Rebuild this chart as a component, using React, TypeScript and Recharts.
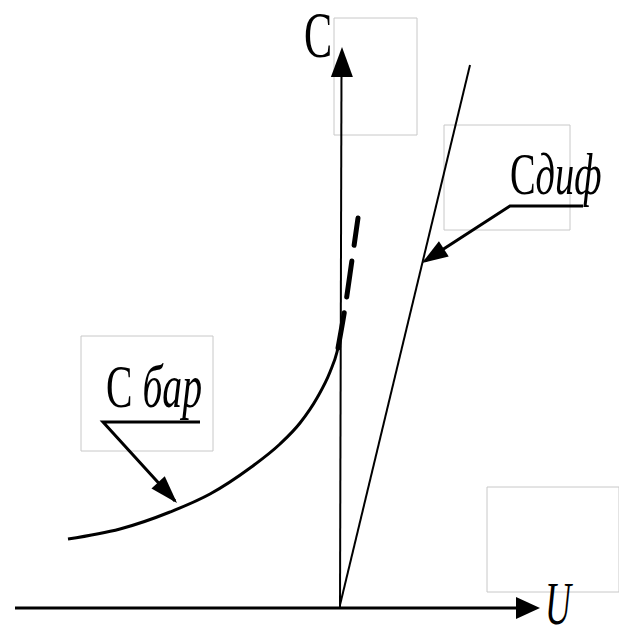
import {
  ComposedChart,
  Line,
  ReferenceArea,
  Scatter,
  XAxis,
  YAxis,
} from "recharts";

// Diagram units: U (horizontal) and C (vertical), origin where the axes cross.
const U_DOMAIN = [-6.8, 5.58];
const C_DOMAIN = [-0.36, 12.16];

const uAxis = [
  { u: -6.5, c: 0 },
  { u: 3.6, c: 0 },
];
const cAxis = [
  { u: 0, c: 0 },
  { u: 0.03, c: 10.8 },
];

// barrier capacitance, solid part
const cBar = [
  { u: -5.44, c: 1.38 },
  { u: -4.4, c: 1.58 },
  { u: -3.4, c: 1.92 },
  { u: -2.6, c: 2.28 },
  { u: -1.8, c: 2.8 },
  { u: -1.2, c: 3.28 },
  { u: -0.8, c: 3.7 },
  { u: -0.46, c: 4.2 },
  { u: -0.2, c: 4.72 },
  { u: -0.06, c: 5.12 },
  { u: 0, c: 5.4 },
];
// barrier capacitance, dashed continuation
const cBarDashed = [
  { u: -0.04, c: 5.2 },
  { u: 0.1, c: 6.0 },
  { u: 0.24, c: 6.96 },
  { u: 0.36, c: 7.8 },
];
// diffusion capacitance
const cDif = [
  { u: 0, c: 0.06 },
  { u: 2.6, c: 10.86 },
];

const difLeader = [
  { u: 4.86, c: 8.04 },
  { u: 3.4, c: 8.04 },
  { u: 1.7, c: 6.94 },
];
const barLeader = [
  { u: -2.8, c: 3.72 },
  { u: -4.74, c: 3.72 },
  { u: -3.3, c: 2.14 },
];

const arrows = [
  { id: "u", u: 4.0, c: 0, fromU: -6.5, fromC: 0 },
  { id: "c", u: 0.04, c: 11.22, fromU: 0, fromC: 0 },
  { id: "dif", u: 1.64, c: 6.9, fromU: 3.4, fromC: 8.04 },
  { id: "bar", u: -3.26, c: 2.1, fromU: -4.74, fromC: 3.72 },
];

const labels = [
  { id: "c", u: -0.72, c: 11.02, main: "C", sub: "" },
  { id: "dif", u: 3.4, c: 8.28, main: "C", sub: "диф" },
  { id: "bar", u: -4.68, c: 4.02, main: "C", sub: " бар" },
  { id: "u", u: 4.1, c: -0.32, main: "", sub: "U" },
];

const boxes = [
  { u1: -0.12, u2: 1.54, c1: 9.46, c2: 11.8 },
  { u1: 2.08, u2: 4.6, c1: 7.56, c2: 9.66 },
  { u1: -5.18, u2: -2.54, c1: 3.14, c2: 5.44 },
  { u1: 2.94, u2: 5.58, c1: 0.32, c2: 2.42 },
];

const arrowSize: Record<string, [number, number]> = {
  u: [24, 11],
  c: [30, 11],
  dif: [26, 9],
  bar: [28, 9],
};

const labelStyle: Record<string, { size: number; sx: number }> = {
  c: { size: 66, sx: 0.64 },
  dif: { size: 60, sx: 0.64 },
  bar: { size: 62, sx: 0.64 },
  u: { size: 62, sx: 0.58 },
};

function ArrowHead(props: any) {
  const { cx, cy, payload } = props;
  const [len, hw] = arrowSize[payload.id];
  // x and y scales are both 50 px per unit, so the angle carries over
  const ang =
    (Math.atan2(-(payload.c - payload.fromC), payload.u - payload.fromU) *
      180) /
    Math.PI;
  return (
    <polygon
      points={`0,0 ${-len},${-hw} ${-len},${hw}`}
      fill="#000"
      transform={`translate(${cx},${cy}) rotate(${ang})`}
    />
  );
}

function LabelText(props: any) {
  const { cx, cy, payload } = props;
  const st = labelStyle[payload.id];
  return (
    <text
      transform={`translate(${cx},${cy}) scale(${st.sx},1)`}
      fontFamily="'Liberation Serif', 'DejaVu Serif', serif"
      fontSize={st.size}
      fill="#000"
    >
      {payload.main && <tspan>{payload.main}</tspan>}
      {payload.sub && <tspan fontStyle="italic">{payload.sub}</tspan>}
    </text>
  );
}

const lineProps = {
  dataKey: "c",
  dot: false,
  activeDot: false,
  stroke: "#000",
  isAnimationActive: false,
  legendType: "none" as const,
};

export default function App() {
  return (
    <div
      style={{
        position: "absolute",
        left: 0,
        top: 0,
        width: 619,
        height: 626,
        background: "#fff",
      }}
    >
      <ComposedChart
        width={619}
        height={626}
        margin={{ top: 0, right: 0, bottom: 0, left: 0 }}
      >
        <XAxis
          dataKey="u"
          type="number"
          domain={U_DOMAIN}
          allowDataOverflow
          hide
        />
        <YAxis
          dataKey="c"
          type="number"
          domain={C_DOMAIN}
          allowDataOverflow
          hide
        />
        {boxes.map((b, i) => (
          <ReferenceArea
            key={i}
            x1={b.u1}
            x2={b.u2}
            y1={b.c1}
            y2={b.c2}
            fill="none"
            stroke="#c8c8c8"
            strokeWidth={1}
            ifOverflow="visible"
          />
        ))}
        <Line {...lineProps} data={uAxis} strokeWidth={3} type="linear" />
        <Line {...lineProps} data={cAxis} strokeWidth={2} type="linear" />
        <Line {...lineProps} data={cDif} strokeWidth={2} type="linear" />
        <Line {...lineProps} data={cBar} strokeWidth={3} type="monotone" />
        <Line
          {...lineProps}
          data={cBarDashed}
          strokeWidth={5}
          strokeDasharray="36 16"
          strokeLinecap="round"
          type="monotone"
        />
        <Line {...lineProps} data={difLeader} strokeWidth={3} type="linear" />
        <Line {...lineProps} data={barLeader} strokeWidth={3} type="linear" />
        <Scatter
          data={arrows}
          dataKey="c"
          shape={ArrowHead}
          isAnimationActive={false}
        />
        <Scatter
          data={labels}
          dataKey="c"
          shape={LabelText}
          isAnimationActive={false}
        />
      </ComposedChart>
    </div>
  );
}
